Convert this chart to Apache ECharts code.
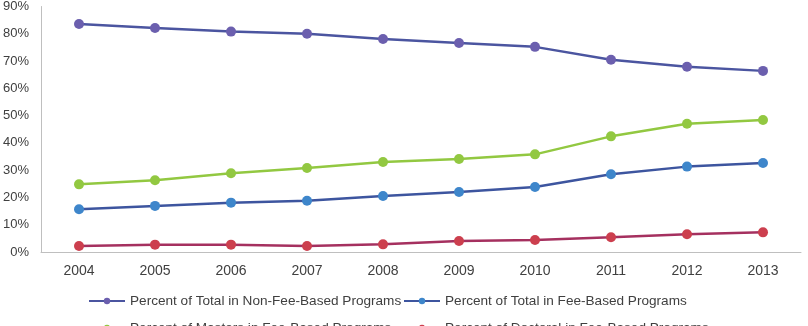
<!DOCTYPE html>
<html>
<head>
<meta charset="utf-8">
<script src="https://cdn.jsdelivr.net/npm/echarts@6/dist/echarts.min.js"></script>
<style>
    html, body { margin: 0; padding: 0; background: #fff; }
    #chart { width: 808px; height: 326px; }
</style>
</head>
<body>
<div id="chart"></div>
<script>
// data (percent)
const years = ['2004', '2005', '2006', '2007', '2008', '2009', '2010', '2011', '2012', '2013'];
const nonFeeTotal = [83.6, 82.1, 80.8, 80.0, 78.1, 76.6, 75.2, 70.5, 67.9, 66.4];
const feeTotal = [15.7, 16.9, 18.1, 18.8, 20.5, 22.0, 23.8, 28.5, 31.3, 32.6];
const feeMasters = [24.8, 26.3, 28.9, 30.8, 33.0, 34.1, 35.8, 42.4, 47.0, 48.4];
const feeDoctoral = [2.2, 2.7, 2.7, 2.2, 2.8, 4.0, 4.4, 5.4, 6.5, 7.2];
const yTicks = [0, 10, 20, 30, 40, 50, 60, 70, 80, 90];

const names = [
    'Percent of Total in Non-Fee-Based Programs',
    'Percent of Total in Fee-Based Programs',
    'Percent of Masters in Fee-Based Programs',
    'Percent of Doctoral in Fee-Based Programs'
];

const font = "'Liberation Sans', Arial, sans-serif";

const makeSeries = (name, data, lineColor, dotColor) => ({
    name: name,
    type: 'line',
    data: data,
    symbol: 'circle',
    symbolSize: 10,
    lineStyle: { color: lineColor, width: 2.5 },
    itemStyle: { color: dotColor },
    emphasis: { disabled: true }
});

const legendAt = (name, left, top) => ({
    data: [name],
    left: left,
    top: top,
    itemWidth: 36,
    itemHeight: 8,
    itemGap: 4,
    padding: 0,
    textStyle: { fontFamily: font, fontSize: 13.6, color: '#404040' }
});

const option = {
    animation: false,
    grid: { left: 40, right: 7, top: 6, bottom: 74, containLabel: false },
    legend: [
        legendAt(names[0], 88, 294),
        legendAt(names[1], 403, 294),
        legendAt(names[2], 88, 321),
        legendAt(names[3], 403, 321)
    ],
    xAxis: {
        type: 'category',
        data: years,
        boundaryGap: true,
        axisLine: { show: true, lineStyle: { color: '#BFBFBF', width: 1 } },
        axisTick: { show: false },
        axisLabel: { fontFamily: font, fontSize: 14, color: '#404040', margin: 12 },
        splitLine: { show: false }
    },
    yAxis: {
        type: 'value',
        min: yTicks[0],
        max: yTicks[yTicks.length - 1],
        interval: 10,
        axisLine: { show: true, lineStyle: { color: '#BFBFBF', width: 1 } },
        axisTick: { show: false },
        axisLabel: { fontFamily: font, fontSize: 13, color: '#404040', margin: 12, formatter: '{value}%' },
        splitLine: { show: false }
    },
    series: [
        makeSeries(names[0], nonFeeTotal, '#4B55A0', '#6B5FAE'),
        makeSeries(names[1], feeTotal, '#3D559F', '#3E86CB'),
        makeSeries(names[2], feeMasters, '#92C841', '#92C841'),
        makeSeries(names[3], feeDoctoral, '#A5305F', '#CC3F4E')
    ]
};

const myChart = echarts.init(document.getElementById('chart'));
myChart.setOption(option);
</script>
</body>
</html>
